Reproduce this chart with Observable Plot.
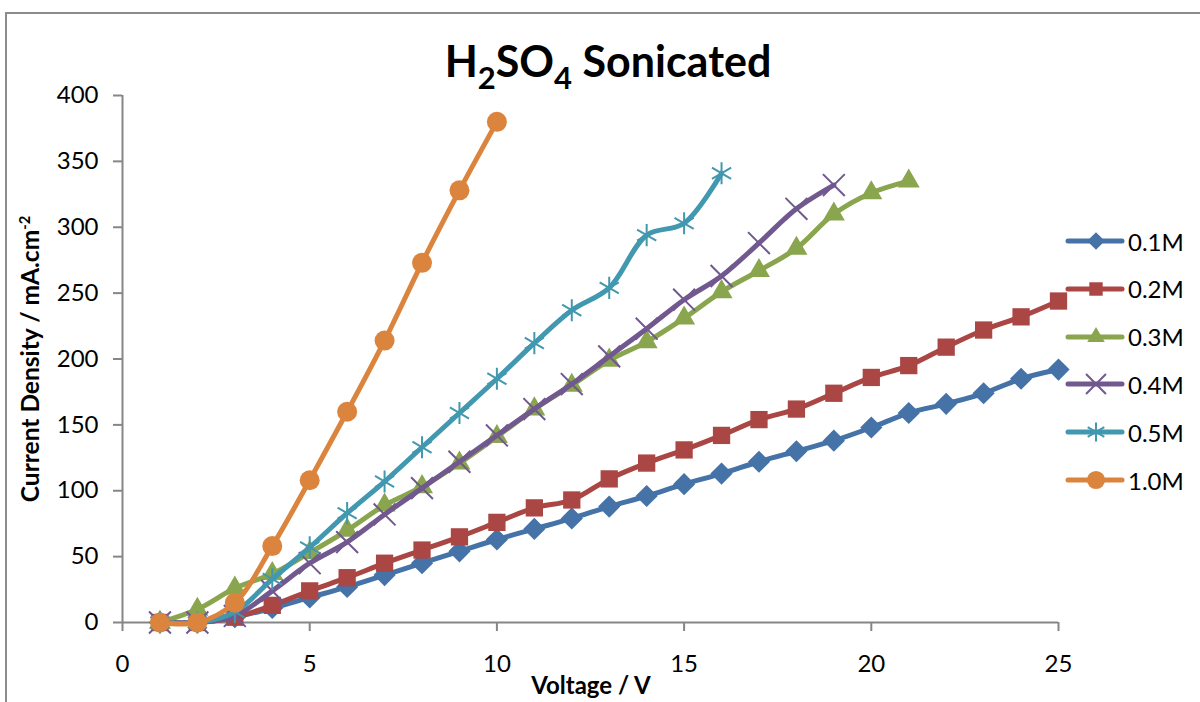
<!DOCTYPE html>
<html>
<head>
<meta charset="utf-8">
<script src="https://cdn.jsdelivr.net/npm/d3@7"></script>
<script src="https://cdn.jsdelivr.net/npm/@observablehq/plot@0.6"></script>
<style>
  html, body { margin: 0; padding: 0; background: #fff; }
  body { font-family: Lato, "Open Sans", sans-serif; color: #000; }
  #wrap { position: relative; width: 1200px; height: 702px; overflow: hidden; }
  #frame { position: absolute; left: 5px; top: 12px; width: 1400px; height: 900px;
           border-left: 2px solid #8c8c8c; border-top: 2px solid #8c8c8c; box-sizing: border-box; }
  #chart { position: absolute; left: 0; top: 0; }
  #title { position: absolute; left: 0; width: 1216px; top: 39px; text-align: center;
           font-weight: 700; font-size: 43px; line-height: 1; white-space: nowrap; }
  #title sub { font-size: 0.72em; vertical-align: -0.4em; line-height: 0; }
  #ylabel { position: absolute; left: 30px; top: 359px; transform: translate(-50%, -50%) rotate(-90deg);
            font-weight: 700; font-size: 24.5px; white-space: nowrap; line-height: 1; }
  #ylabel sup { font-size: 0.6em; vertical-align: 0.6em; line-height: 0; }
  #xlabel { position: absolute; left: 591px; top: 673px; transform: translateX(-50%);
            font-weight: 700; font-size: 24px; white-space: nowrap; line-height: 1; }
  #legend { position: absolute; left: 1064px; top: 0; }
  .lg { position: absolute; left: 0; height: 30px; display: flex; align-items: center; white-space: nowrap; }
  .lg span { font-size: 24px; margin-left: 2px; }
</style>
</head>
<body>
<div id="wrap">
  <div id="frame"></div>
  <div id="chart"></div>
  <div id="title">H<sub>2</sub>SO<sub>4</sub> Sonicated</div>
  <div id="ylabel">Current Density / mA.cm<sup>-2</sup></div>
  <div id="xlabel">Voltage / V</div>
  <div id="legend"></div>
</div>
<script>
// ---- Data ----
const voltage = [1,2,3,4,5,6,7,8,9,10,11,12,13,14,15,16,17,18,19,20,21,22,23,24,25];
const seriesNames = ["0.1M", "0.2M", "0.3M", "0.4M", "0.5M", "1.0M"];
const j01 = [0,0,4,11,19,27,36,45,54,63,71,79,88,96,105,113,122,130,138,148,159,166,174,185,192];
const j02 = [0,0,4,13,24,34,45,55,65,76,87,93,109,121,131,142,154,162,174,186,195,209,222,232,244];
const j03 = [0,10,26,37,53,70,89,103,121,141,162,180,199,213,231,251,267,284,310,326,335];
const j04 = [0,0,5,24,45,61,82,102,122,142,162,181,202,223,245,263,288,314,332];
const j05 = [0,0,8,33,57,83,107,133,159,185,212,237,254,294,303,341];
const j10 = [0,0,15,58,108,160,214,273,328,380];
const xTicks = [0,5,10,15,20,25];
const yTicks = [0,50,100,150,200,250,300,350,400];

// ---- Styling (kept separate from data) ----
const colors  = ["#4572A7", "#AA4643", "#89A54E", "#71588F", "#4198AF", "#DB843D"];
const symbols = ["diamond2", "square2", "triangle2", "times", "asterisk", "circle"];
const filled  = [true, true, true, false, false, true];
const radii   = [10, 11, 10.5, 10, 10.5, 10];

const allJ = [j01, j02, j03, j04, j05, j10];
const rows = [];
allJ.forEach((arr, s) => arr.forEach((j, i) => rows.push({series: seriesNames[s], V: voltage[i], J: j})));

const marks = [
  Plot.ruleY([0], {stroke: "#868686", strokeWidth: 2}),
  Plot.ruleX([0], {stroke: "#868686", strokeWidth: 2}),
  Plot.axisX({ticks: xTicks, tickSize: 9, tickPadding: 23, stroke: "#868686", strokeWidth: 2, fill: "#000", label: null, tickFormat: d => String(d)}),
  Plot.axisY({ticks: yTicks, tickSize: 9, tickPadding: 15, stroke: "#868686", strokeWidth: 2, fill: "#000", label: null, tickFormat: d => String(d)})
];
seriesNames.forEach((name, s) => {
  const d = rows.filter(r => r.series === name);
  marks.push(Plot.line(d, {x: "V", y: "J", stroke: colors[s], strokeWidth: 5, curve: "catmull-rom", strokeLinecap: "round", strokeLinejoin: "round"}));
  marks.push(Plot.dot(d, filled[s]
    ? {x: "V", y: "J", symbol: () => symbols[s], r: radii[s], fill: colors[s], stroke: "none"}
    : {x: "V", y: "J", symbol: () => symbols[s], r: radii[s], fill: "none", stroke: colors[s], strokeWidth: 2}));
});

const chart = Plot.plot({
  width: 1200,
  height: 702,
  marginLeft: 122,
  marginRight: 142,
  marginTop: 95,
  marginBottom: 80,
  x: {domain: [0, 25]},
  y: {domain: [0, 400]},
  symbol: {domain: seriesNames.map((_, i) => symbols[i])},
  style: {fontFamily: "Lato, sans-serif", fontSize: "24px", color: "#000", background: "transparent", overflow: "visible"},
  marks
});
document.getElementById("chart").appendChild(chart);

// ---- Legend ----
const legend = d3.select("#legend");
const d3sym = {diamond2: d3.symbolDiamond2, square2: d3.symbolSquare2, triangle2: d3.symbolTriangle2,
               times: d3.symbolTimes, asterisk: d3.symbolAsterisk, circle: d3.symbolCircle};
const legendSizes = [200, 230, 220, 260, 260, 260];
seriesNames.forEach((name, s) => {
  const row = legend.append("div").attr("class", "lg").style("top", (226 + s * 47.8) + "px");
  const svg = row.append("svg").attr("width", 62).attr("height", 30);
  svg.append("line").attr("x1", 4).attr("x2", 58).attr("y1", 15).attr("y2", 15)
    .attr("stroke", colors[s]).attr("stroke-width", 5).attr("stroke-linecap", "round");
  svg.append("path").attr("transform", "translate(32,15)")
    .attr("d", d3.symbol(d3sym[symbols[s]], legendSizes[s])())
    .attr("fill", filled[s] ? colors[s] : "none")
    .attr("stroke", filled[s] ? "none" : colors[s]).attr("stroke-width", 2);
  row.append("span").text(name);
});
</script>
</body>
</html>
